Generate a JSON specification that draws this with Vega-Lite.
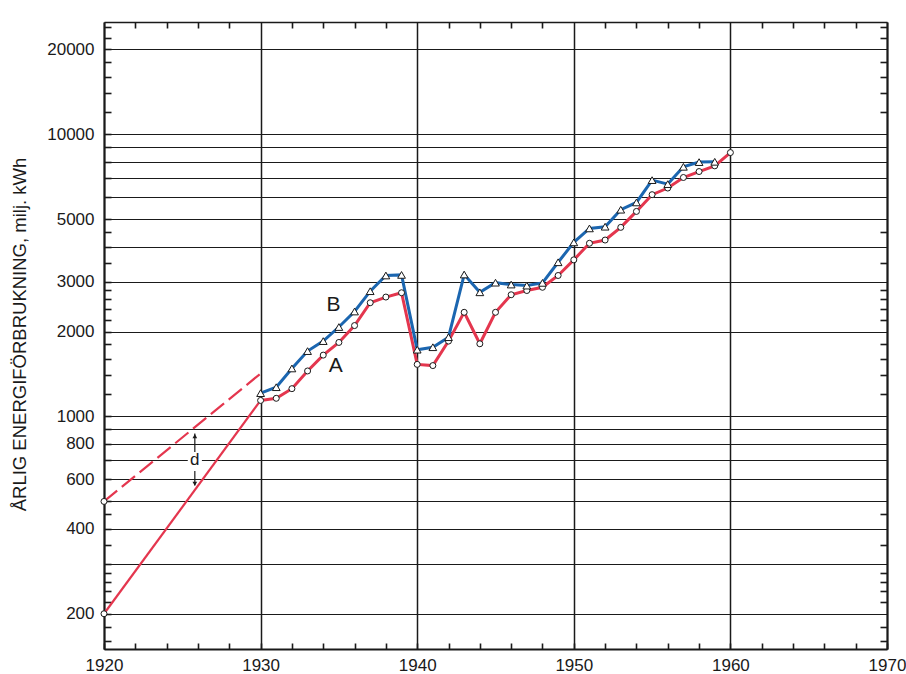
{
  "$schema": "https://vega.github.io/schema/vega-lite/v6.json",
  "width": 783,
  "height": 627,
  "autosize": "none",
  "padding": {"left": 104, "top": 22, "right": 19, "bottom": 25},
  "background": "white",
  "config": {
    "view": {"stroke": null}
  },
  "datasets": {
    "A": [
      {"year": 1930, "value": 1140}, {"year": 1931, "value": 1160}, {"year": 1932, "value": 1255},
      {"year": 1933, "value": 1450}, {"year": 1934, "value": 1650}, {"year": 1935, "value": 1830},
      {"year": 1936, "value": 2100}, {"year": 1937, "value": 2530}, {"year": 1938, "value": 2650},
      {"year": 1939, "value": 2745}, {"year": 1940, "value": 1530}, {"year": 1941, "value": 1515},
      {"year": 1942, "value": 1850}, {"year": 1943, "value": 2340}, {"year": 1944, "value": 1810},
      {"year": 1945, "value": 2340}, {"year": 1946, "value": 2700}, {"year": 1947, "value": 2795},
      {"year": 1948, "value": 2870}, {"year": 1949, "value": 3160}, {"year": 1950, "value": 3590},
      {"year": 1951, "value": 4110}, {"year": 1952, "value": 4220}, {"year": 1953, "value": 4680},
      {"year": 1954, "value": 5330}, {"year": 1955, "value": 6110}, {"year": 1956, "value": 6450},
      {"year": 1957, "value": 7030}, {"year": 1958, "value": 7380}, {"year": 1959, "value": 7730},
      {"year": 1960, "value": 8615}
    ],
    "B": [
      {"year": 1930, "value": 1210}, {"year": 1931, "value": 1270}, {"year": 1932, "value": 1480},
      {"year": 1933, "value": 1705}, {"year": 1934, "value": 1850}, {"year": 1935, "value": 2075},
      {"year": 1936, "value": 2355}, {"year": 1937, "value": 2780}, {"year": 1938, "value": 3160},
      {"year": 1939, "value": 3175}, {"year": 1940, "value": 1725}, {"year": 1941, "value": 1760},
      {"year": 1942, "value": 1910}, {"year": 1943, "value": 3185}, {"year": 1944, "value": 2755},
      {"year": 1945, "value": 2980}, {"year": 1946, "value": 2935}, {"year": 1947, "value": 2910},
      {"year": 1948, "value": 2975}, {"year": 1949, "value": 3520}, {"year": 1950, "value": 4140},
      {"year": 1951, "value": 4640}, {"year": 1952, "value": 4705}, {"year": 1953, "value": 5405},
      {"year": 1954, "value": 5735}, {"year": 1955, "value": 6880}, {"year": 1956, "value": 6660},
      {"year": 1957, "value": 7670}, {"year": 1958, "value": 7970}, {"year": 1959, "value": 7990}
    ],
    "early": [{"year": 1920, "value": 200}, {"year": 1930, "value": 1140}],
    "dash": [{"year": 1920, "value": 500}, {"year": 1930, "value": 1420}],
    "start": [{"year": 1920, "value": 200}, {"year": 1920, "value": 500}],
    "arrow": [
      {"year": 1925.8, "y1": 870, "y2": 748},
      {"year": 1925.8, "y1": 641, "y2": 570}
    ],
    "heads": [
      {"year": 1925.8, "value": 852, "shape": "triangle-up"},
      {"year": 1925.8, "value": 578, "shape": "triangle-down"}
    ],
    "dlabel": [{"year": 1925.8, "value": 695, "text": "d"}],
    "letters": [
      {"year": 1934.65, "value": 2474, "text": "B"},
      {"year": 1934.8, "value": 1506, "text": "A"}
    ]
  },
  "resolve": {"axis": {"x": "independent", "y": "independent"}},
  "layer": [
    {
      "data": {"name": "A"},
      "mark": {"type": "line", "color": "#e4364e", "strokeWidth": 3},
      "encoding": {
        "x": {
          "field": "year", "type": "quantitative",
          "scale": {"domain": [1920, 1970], "nice": false, "zero": false},
          "axis": {
            "orient": "bottom", "title": null, "format": "d",
            "values": [1920,1922,1924,1926,1928,1930,1932,1934,1936,1938,1940,1942,1944,1946,1948,1950,1952,1954,1956,1958,1960,1962,1964,1966,1968,1970],
            "labelExpr": "datum.value % 10 === 0 ? format(datum.value, 'd') : ''",
            "labelFont": "Liberation Sans", "labelFontSize": 17, "labelColor": "#1a1a1a",
            "labelPadding": 14, "labelOverlap": false, "labelBound": false, "labelFlush": false,
            "tickSize": -6, "tickColor": "#1a1a1a", "tickWidth": 1.6,
            "domainColor": "#1a1a1a", "domainWidth": 2,
            "grid": true, "gridColor": "#1a1a1a", "gridWidth": 1.5,
            "gridOpacity": {"condition": {"test": "datum.value % 10 === 0", "value": 1}, "value": 0}
          }
        },
        "y": {
          "field": "value", "type": "quantitative",
          "scale": {"type": "log", "domain": [150, 25000], "nice": false},
          "axis": {
            "orient": "left",
            "title": "ÅRLIG ENERGIFÖRBRUKNING, milj. kWh",
            "titleFont": "Liberation Sans", "titleFontSize": 18.5, "titleFontWeight": "normal",
            "titleColor": "#1a1a1a", "titleAngle": -90, "titleX": -85, "titleY": 312,
            "titleAlign": "center", "titleBaseline": "middle",
            "values": [160,180,200,220,240,260,280,300,350,400,450,500,600,700,800,900,1000,1200,1400,1600,1800,2000,2200,2400,2600,2800,3000,3500,4000,4500,5000,6000,7000,8000,9000,10000,12000,14000,16000,18000,20000,22000,24000],
            "labelExpr": "indexof([200,400,600,800,1000,2000,3000,5000,10000,20000], datum.value) >= 0 ? format(datum.value, 'd') : ''",
            "labelFont": "Liberation Sans", "labelFontSize": 17, "labelColor": "#1a1a1a",
            "labelPadding": 17, "labelOverlap": false, "labelBound": false, "labelFlush": false,
            "tickSize": -7, "tickColor": "#1a1a1a", "tickWidth": 1.6,
            "domainColor": "#1a1a1a", "domainWidth": 2,
            "grid": true, "gridColor": "#1a1a1a", "gridWidth": 1.2,
            "gridOpacity": {"condition": {"test": "indexof([200,300,400,500,600,700,800,900,1000,2000,3000,4000,5000,6000,7000,8000,9000,10000,20000], datum.value) >= 0", "value": 1}, "value": 0}
          }
        }
      }
    },
    {
      "data": {"name": "B"},
      "mark": {"type": "line", "color": "#1b66b0", "strokeWidth": 3},
      "encoding": {
        "x": {
          "field": "year", "type": "quantitative",
          "axis": {
            "orient": "top", "title": null, "labels": false, "grid": false, "zindex": 1,
            "values": [1922,1924,1926,1928,1932,1934,1936,1938,1942,1944,1946,1948,1952,1954,1956,1958,1962,1964,1966,1968],
            "tickSize": -6, "tickColor": "#1a1a1a", "tickWidth": 1.6,
            "domainColor": "#1a1a1a", "domainWidth": 1.6
          }
        },
        "y": {
          "field": "value", "type": "quantitative",
          "axis": {
            "orient": "right", "title": null, "labels": false, "grid": false, "zindex": 1,
            "values": [160,180,220,240,260,280,350,450,1200,1400,1600,1800,2200,2400,2600,2800,3500,4500,12000,14000,16000,18000,22000,24000],
            "tickSize": -7, "tickColor": "#1a1a1a", "tickWidth": 1.6,
            "domainColor": "#1a1a1a", "domainWidth": 2
          }
        }
      }
    },
    {
      "data": {"name": "early"},
      "mark": {"type": "line", "color": "#e4364e", "strokeWidth": 2.2},
      "encoding": {
        "x": {"field": "year", "type": "quantitative", "axis": null},
        "y": {"field": "value", "type": "quantitative", "axis": null}
      }
    },
    {
      "data": {"name": "dash"},
      "mark": {"type": "line", "color": "#e4364e", "strokeWidth": 2.2, "strokeDash": [17, 6]},
      "encoding": {
        "x": {"field": "year", "type": "quantitative", "axis": null},
        "y": {"field": "value", "type": "quantitative", "axis": null}
      }
    },
    {
      "data": {"name": "arrow"},
      "mark": {"type": "rule", "color": "#1a1a1a", "strokeWidth": 1.2},
      "encoding": {
        "x": {"field": "year", "type": "quantitative", "axis": null},
        "y": {"field": "y1", "type": "quantitative", "axis": null},
        "y2": {"field": "y2"}
      }
    },
    {
      "data": {"name": "heads"},
      "mark": {"type": "point", "filled": true, "color": "#1a1a1a", "size": 22, "opacity": 1},
      "encoding": {
        "x": {"field": "year", "type": "quantitative", "axis": null},
        "y": {"field": "value", "type": "quantitative", "axis": null},
        "shape": {"field": "shape", "type": "nominal", "scale": null, "legend": null}
      }
    },
    {
      "data": {"name": "dlabel"},
      "mark": {"type": "point", "shape": "square", "filled": true, "color": "white", "size": 200, "opacity": 1},
      "encoding": {
        "x": {"field": "year", "type": "quantitative", "axis": null},
        "y": {"field": "value", "type": "quantitative", "axis": null}
      }
    },
    {
      "data": {"name": "dlabel"},
      "mark": {"type": "text", "font": "Liberation Sans", "fontSize": 17, "color": "#1a1a1a", "baseline": "middle", "align": "center", "dy": -1},
      "encoding": {
        "x": {"field": "year", "type": "quantitative", "axis": null},
        "y": {"field": "value", "type": "quantitative", "axis": null},
        "text": {"field": "text"}
      }
    },
    {
      "data": {"name": "start"},
      "mark": {"type": "point", "shape": "circle", "filled": true, "fill": "white", "stroke": "#1a1a1a", "strokeWidth": 1, "size": 36, "opacity": 1},
      "encoding": {
        "x": {"field": "year", "type": "quantitative", "axis": null},
        "y": {"field": "value", "type": "quantitative", "axis": null}
      }
    },
    {
      "data": {"name": "A"},
      "mark": {"type": "point", "shape": "circle", "filled": true, "fill": "white", "stroke": "#1a1a1a", "strokeWidth": 1, "size": 36, "opacity": 1},
      "encoding": {
        "x": {"field": "year", "type": "quantitative", "axis": null},
        "y": {"field": "value", "type": "quantitative", "axis": null}
      }
    },
    {
      "data": {"name": "B"},
      "mark": {"type": "point", "shape": "triangle-up", "filled": true, "fill": "white", "stroke": "#1a1a1a", "strokeWidth": 1, "size": 60, "opacity": 1},
      "encoding": {
        "x": {"field": "year", "type": "quantitative", "axis": null},
        "y": {"field": "value", "type": "quantitative", "axis": null}
      }
    },
    {
      "data": {"name": "letters"},
      "mark": {"type": "text", "font": "Liberation Sans", "fontSize": 21, "color": "#1a1a1a", "baseline": "middle", "align": "center"},
      "encoding": {
        "x": {"field": "year", "type": "quantitative", "axis": null},
        "y": {"field": "value", "type": "quantitative", "axis": null},
        "text": {"field": "text"}
      }
    }
  ]
}
